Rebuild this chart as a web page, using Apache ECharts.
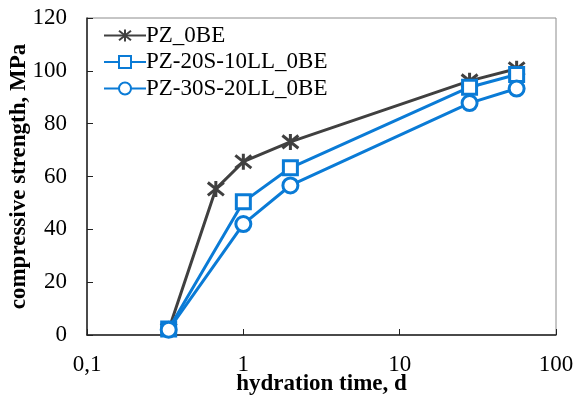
<!DOCTYPE html>
<html><head><meta charset="utf-8">
<script src="https://cdn.jsdelivr.net/npm/echarts@6/dist/echarts.min.js"></script>
<style>html,body{margin:0;padding:0;background:#fff}#c{width:574px;height:399px}</style>
</head><body><div id="c"></div>
<script>
const seriesNames = ['PZ_0BE', 'PZ-20S-10LL_0BE', 'PZ-30S-20LL_0BE'];
const timesPZ = [0.333, 0.667, 1, 2, 28, 56];
const valuesPZ = [2, 55.3, 65.6, 73.1, 96.2, 100.8];
const timesS = [0.333, 1, 2, 28, 56];
const values20S = [2.3, 50.4, 63.3, 93.8, 98.6];
const values30S = [2.0, 42.0, 56.6, 87.8, 93.3];
const xTicks = [0.1, 1, 10, 100];
const yTicks = [0, 20, 40, 60, 80, 100, 120];

const font = 'Liberation Serif';
const gray = '#404040', blue = '#0A7BD6';
const star = 'path://M0,-10 L0,10 M-9,-8 L9,8 M-9,8 L9,-8';
const zip = (xs, ys) => xs.map((x, i) => [x, ys[i]]);

const chart = echarts.init(document.getElementById('c'), null, {renderer: 'canvas'});
chart.setOption({
  animation: false,
  backgroundColor: '#fff',
  grid: {left: 87, right: 18, top: 18, bottom: 64, show: true, borderColor: '#8c8c8c', borderWidth: 1,
         containLabel: false, outerBoundsMode: 'none'},
  legend: {
    left: 98, top: 19, orient: 'vertical', itemWidth: 42, itemHeight: 15, itemGap: 3.5,
    textStyle: {fontFamily: font, fontSize: 23, color: '#000', padding: [0,0,0,-5]},
    data: seriesNames
  },
  xAxis: {
    type: 'log', min: 0.1, max: 100, logBase: 10,
    name: 'hydration time, d', nameLocation: 'middle', nameGap: 38, nameMoveOverlap: false,
    nameTextStyle: {fontFamily: font, fontSize: 23, fontWeight: 'bold', color: '#000'},
    axisLine: {lineStyle: {color: '#222', width: 1.5}},
    axisTick: {inside: true, length: 6, lineStyle: {color: '#222'}},
    splitLine: {show: false}, minorTick: {show: false},
    axisLabel: {fontFamily: font, fontSize: 23, color: '#000', margin: 18, hideOverlap: false,
      formatter: v => { const t = xTicks.find(k => Math.abs(k - v) / k < 1e-6); return t === undefined ? '' : String(t).replace('.', ','); }}
  },
  yAxis: {
    type: 'value', min: yTicks[0], max: yTicks[yTicks.length - 1], interval: 20,
    name: 'compressive strength, MPa', nameLocation: 'middle', nameGap: 56, nameMoveOverlap: false,
    nameTextStyle: {fontFamily: font, fontSize: 23, fontWeight: 'bold', color: '#000'},
    axisLine: {show: true, lineStyle: {color: '#222', width: 1.5}},
    axisTick: {show: true, inside: true, length: 6, lineStyle: {color: '#222'}},
    splitLine: {show: false},
    axisLabel: {fontFamily: font, fontSize: 23, color: '#000', margin: 20}
  },
  series: [
    {name: seriesNames[0], type: 'line', data: zip(timesPZ, valuesPZ), symbol: star, symbolSize: 16,
     lineStyle: {color: gray, width: 3}, itemStyle: {color: gray, borderColor: gray, borderWidth: 3}},
    {name: seriesNames[1], type: 'line', data: zip(timesS, values20S), symbol: 'rect', symbolSize: 14,
     lineStyle: {color: blue, width: 3}, itemStyle: {color: '#fff', borderColor: blue, borderWidth: 3}},
    {name: seriesNames[2], type: 'line', data: zip(timesS, values30S), symbol: 'circle', symbolSize: 15,
     lineStyle: {color: blue, width: 3}, itemStyle: {color: '#fff', borderColor: blue, borderWidth: 3}}
  ]
});
</script></body></html>
